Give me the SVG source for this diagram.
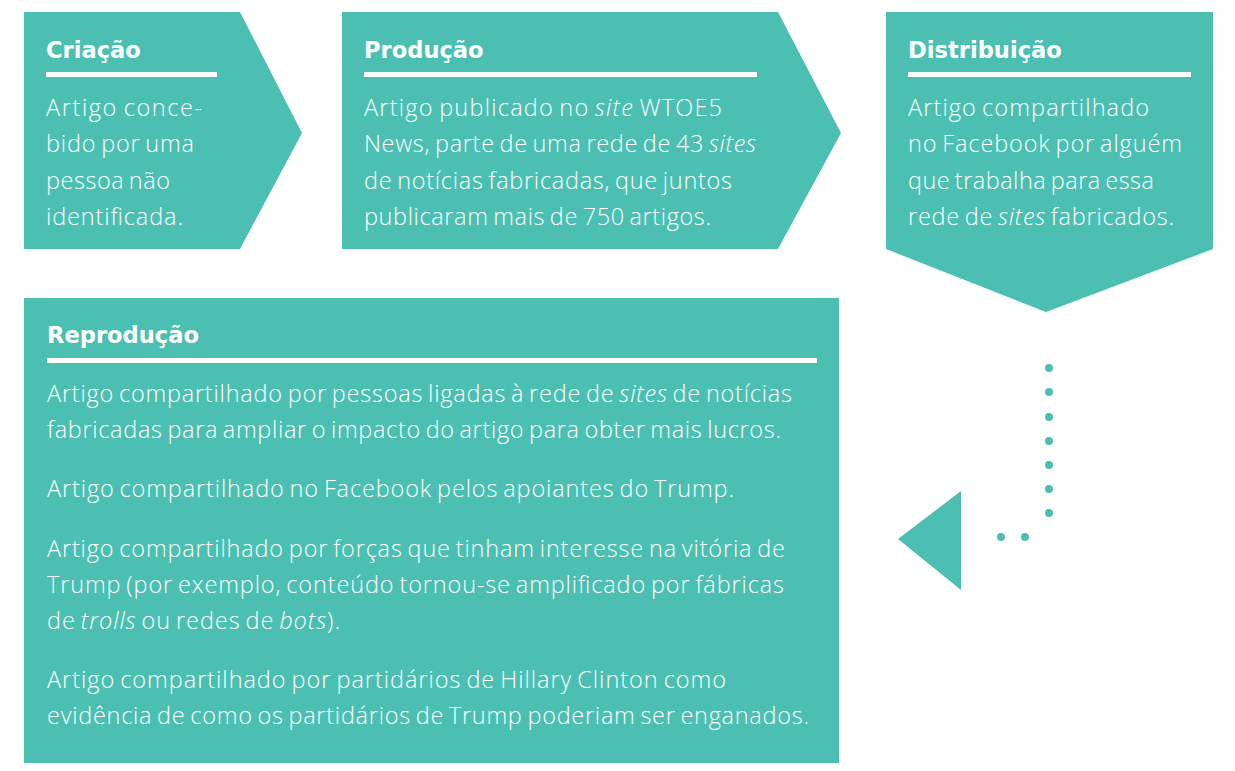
<svg xmlns="http://www.w3.org/2000/svg" width="1235" height="771" viewBox="0 0 1235 771">
<style>
.box{fill:#4bbfb2}
.rule{fill:#ffffff}
.title{font-family:"DejaVu Sans","Open Sans",sans-serif;font-weight:700;font-size:22.6px;fill:#ffffff}
.body{font-family:"Open Sans",Lato,"Liberation Sans",sans-serif;font-weight:300;font-size:23.5px;word-spacing:-2px;fill:#ffffff}
.it{font-style:italic}
.dot{fill:#4bbfb2}
</style>
<rect width="1235" height="771" fill="#ffffff"/>
<g id="criacao">
<polygon class="box" points="24,12 240,12 302,133 240,249 24,249"/>
<text class="title" x="46" y="58">Criação</text>
<rect class="rule" x="46" y="72" width="171" height="5"/>
<text class="body" x="46" y="116" textLength="156">Artigo conce-</text>
<text class="body" x="46" y="152" textLength="148">bido por uma</text>
<text class="body" x="46" y="189" textLength="124">pessoa não</text>
<text class="body" x="46" y="225" textLength="137">identificada.</text>
</g>
<g id="producao">
<polygon class="box" points="342,12 778,12 841,133 778,249 342,249"/>
<text class="title" x="364" y="58">Produção</text>
<rect class="rule" x="364" y="72" width="393" height="5"/>
<text class="body" x="364" y="116" textLength="358">Artigo publicado no <tspan class="it">site</tspan> WTOE5</text>
<text class="body" x="364" y="152" textLength="392">News, parte de uma rede de 43 <tspan class="it">sites</tspan></text>
<text class="body" x="364" y="189" textLength="368">de notícias fabricadas, que juntos</text>
<text class="body" x="364" y="225" textLength="347">publicaram mais de 750 artigos.</text>
</g>
<g id="distribuicao">
<polygon class="box" points="886,12 1213,12 1213,249 1046,312 886,249"/>
<text class="title" x="908" y="58">Distribuição</text>
<rect class="rule" x="908" y="72" width="283" height="5"/>
<text class="body" x="908" y="116" textLength="241">Artigo compartilhado</text>
<text class="body" x="908" y="152" textLength="274">no Facebook por alguém</text>
<text class="body" x="908" y="189" textLength="246">que trabalha para essa</text>
<text class="body" x="908" y="225" textLength="266">rede de <tspan class="it">sites</tspan> fabricados.</text>
</g>
<g id="reproducao">
<rect class="box" x="24" y="298" width="815" height="465"/>
<text class="title" x="47" y="343">Reprodução</text>
<rect class="rule" x="47" y="358" width="770" height="5"/>
<text class="body" x="47" y="402" textLength="745">Artigo compartilhado por pessoas ligadas à rede de <tspan class="it">sites</tspan> de notícias</text>
<text class="body" x="47" y="438" textLength="734">fabricadas para ampliar o impacto do artigo para obter mais lucros.</text>
<text class="body" x="47" y="497" textLength="687">Artigo compartilhado no Facebook pelos apoiantes do Trump.</text>
<text class="body" x="47" y="557" textLength="738">Artigo compartilhado por forças que tinham interesse na vitória de</text>
<text class="body" x="47" y="593" textLength="737">Trump (por exemplo, conteúdo tornou-se amplificado por fábricas</text>
<text class="body" x="47" y="629" textLength="293">de <tspan class="it">trolls</tspan> ou redes de <tspan class="it">bots</tspan>).</text>
<text class="body" x="47" y="688" textLength="679">Artigo compartilhado por partidários de Hillary Clinton como</text>
<text class="body" x="47" y="724" textLength="762">evidência de como os partidários de Trump poderiam ser enganados.</text>
</g>
<g id="connectors">
<circle class="dot" cx="1049" cy="368" r="4"/>
<circle class="dot" cx="1049" cy="392" r="4"/>
<circle class="dot" cx="1049" cy="417" r="4"/>
<circle class="dot" cx="1049" cy="441" r="4"/>
<circle class="dot" cx="1049" cy="465" r="4"/>
<circle class="dot" cx="1049" cy="489" r="4"/>
<circle class="dot" cx="1049" cy="513" r="4"/>
<circle class="dot" cx="1025" cy="537" r="4"/>
<circle class="dot" cx="1001" cy="537" r="4"/>
<polygon class="dot" points="898,539 961,491 961,590"/>
</g>
</svg>
